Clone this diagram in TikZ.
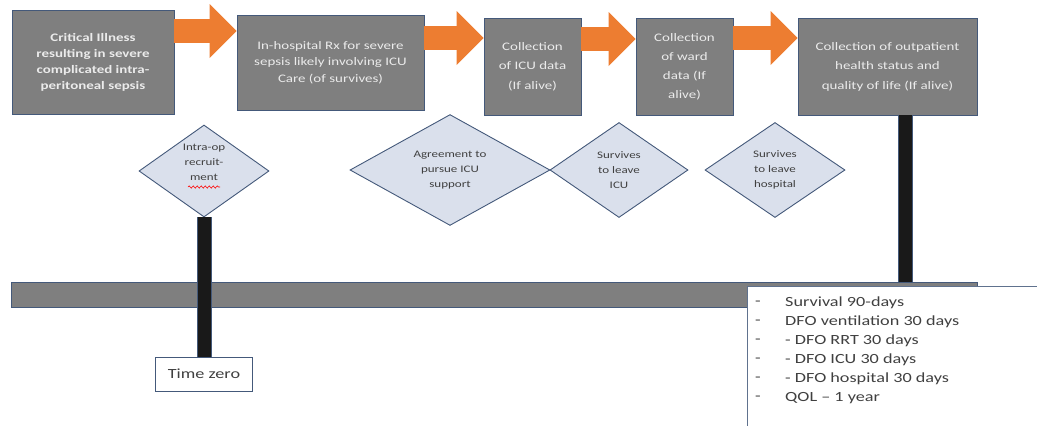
\documentclass[tikz,border=0pt]{standalone}
\usepackage{fontspec}
\setmainfont{Carlito}[FakeStretch=1.3]
\usepackage{xcolor}
\usetikzlibrary{shapes.geometric, arrows.meta, decorations.pathmorphing}
\definecolor{boxgray}{HTML}{7F7F7F}
\definecolor{edgeblue}{HTML}{44597A}
\definecolor{flow}{HTML}{ED7D31}
\definecolor{paleblue}{HTML}{DAE0EC}
\definecolor{inkgray}{HTML}{404040}
\tikzstyle{blockarrow} = [flow, line width=24pt, -{Triangle[length=27pt,width=54pt,line width=0pt]}]
\tikzstyle{post} = [draw=edgeblue, line width=1pt, double=black!90, double distance=13pt]

\begin{document}
\begin{tikzpicture}
        [
            x=1pt, y=-1pt,
            stagebox/.style={rectangle,draw=edgeblue,line width=0.9pt,fill=boxgray,text=white!92!black,align=center,inner sep=2pt},
            decision/.style={diamond,draw=edgeblue,line width=0.9pt,fill=paleblue,text=inkgray,align=center,inner sep=0pt,font=\fontsize{10}{15}\selectfont},
            marker/.style={rectangle,draw=edgeblue,line width=0.9pt,fill=white,text=inkgray,font=\fontsize{14}{17}\selectfont},
            outcome/.style={anchor=west,text=inkgray,inner sep=0pt,font=\fontsize{14}{17}\selectfont},
            spellmark/.style={red,line width=0.6pt,decorate,decoration={snake,amplitude=1.1pt,segment length=4pt}},
        ]
    \useasboundingbox (0,0) rectangle (1037,426);

    \node[stagebox, minimum width=162, minimum height=104, font=\bfseries\fontsize{11.5}{16}\selectfont] (illness) at (93,62)
        {Critical Illness\\resulting in severe\\complicated intra-\\peritoneal sepsis};
    \node[stagebox, minimum width=187, minimum height=95, font=\fontsize{11.5}{16.5}\selectfont] (hospital) at (330.5,62.5)
        {In-hospital Rx for severe\\sepsis likely involving ICU\\Care (of survives)};
    \node[stagebox, minimum width=97, minimum height=97, font=\fontsize{11.5}{19.5}\selectfont] (icudata) at (532.5,66.5)
        {Collection\\of ICU data\\(If alive)};
    \node[stagebox, minimum width=97, minimum height=97, font=\fontsize{11.5}{19}\selectfont] (warddata) at (684.5,66.5)
        {Collection\\of ward\\data (If\\alive)};
    \node[stagebox, minimum width=179, minimum height=97, font=\fontsize{11.5}{19.5}\selectfont] (outpatient) at (887.5,66.5)
        {Collection of outpatient\\health status and\\quality of life (If alive)};

    \draw[blockarrow] (illness.east |- 0,31) -- (hospital.west |- 0,31);
    \draw[blockarrow] (hospital.east |- 0,38) -- (icudata.west |- 0,38);
    \draw[blockarrow] (icudata.east |- 0,39) -- (warddata.west |- 0,39);
    \draw[blockarrow] (warddata.east |- 0,38) -- (outpatient.west |- 0,38);

    \node[decision, minimum width=130, minimum height=92] (recruit) at (204,171) {};
    \node[text=inkgray, align=center, inner sep=0pt, font=\fontsize{10}{15}\selectfont] (recruittext) at (204,162) {Intra-op\\recruit-\\ment};
    \draw[spellmark] ([xshift=-16pt,yshift=-16pt]recruit.center) -- ([xshift=16pt,yshift=-16pt]recruit.center);
    \node[decision, minimum width=200, minimum height=95] (agree) at (450,170) {Agreement to\\pursue ICU\\support};
    \node[decision, minimum width=138, minimum height=95] (leaveicu) at (619,170) {Survives\\to leave\\ICU};
    \node[decision, minimum width=140, minimum height=95] (leavehosp) at (775,170) {Survives\\to leave\\hospital};

    \node[rectangle, draw=edgeblue, line width=0.9pt, fill=boxgray, minimum width=966, minimum height=25, inner sep=0pt] (timeline) at (494,294.5) {};
    \node[marker, minimum width=97, minimum height=34] (timezero) at (204,374) {Time zero};

    \draw[post] (recruit.south) -- (timezero.north);
    \draw[post] ([xshift=17.5pt]outpatient.south) -- ([xshift=17.5pt]outpatient.south |- timeline.north);

    \node[rectangle, draw=edgeblue!85, line width=0.8pt, fill=white, anchor=north west, minimum width=320, minimum height=200] (outcomes) at (747,286) {};
    \foreach \txt [count=\i] in {Survival 90-days, DFO ventilation 30 days, - DFO RRT 30 days, - DFO ICU 30 days, - DFO hospital 30 days, QOL -- 1 year}{
        \node[outcome] (dash\i) at (755,284+19*\i) {-};
        \node[outcome] (item\i) at (785,284+19*\i) {\txt};
    }
\end{tikzpicture}
\end{document}
